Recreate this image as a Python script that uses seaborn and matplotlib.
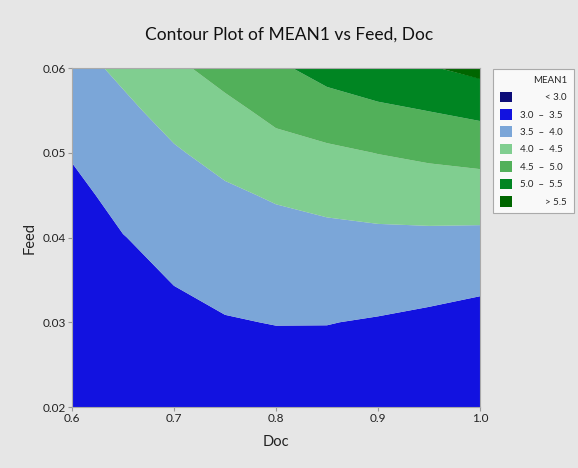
import numpy as np
import matplotlib
matplotlib.use("Agg")
import matplotlib.pyplot as plt
import seaborn as sns
from matplotlib.patches import Patch

# grid
doc = [0.60, 0.65, 0.70, 0.75, 0.80, 0.85, 0.90, 0.95, 1.00]
feed = [0.020, 0.025, 0.030, 0.035, 0.040, 0.045, 0.050, 0.055, 0.060]

# MEAN1 values, one row per feed value (bottom to top)
mean1_f020 = [3.10, 3.25, 3.30, 3.30, 3.29, 3.26, 3.22, 3.16, 3.05]
mean1_f025 = [3.12, 3.28, 3.35, 3.38, 3.385, 3.37, 3.32, 3.27, 3.15]
mean1_f030 = [3.16, 3.33, 3.42, 3.48, 3.51, 3.51, 3.47, 3.42, 3.347]
mean1_f035 = [3.22, 3.40, 3.513, 3.594, 3.66, 3.686, 3.685, 3.64, 3.596]
mean1_f040 = [3.30, 3.49, 3.62, 3.744, 3.83, 3.88, 3.91, 3.913, 3.897]
mean1_f045 = [3.405, 3.61, 3.77, 3.924, 4.047, 4.133, 4.19, 4.23, 4.25]
mean1_f050 = [3.53, 3.74, 3.954, 4.15, 4.335, 4.415, 4.51, 4.59, 4.657]
mean1_f055 = [3.68, 3.90, 4.167, 4.38, 4.62, 4.79, 4.91, 5.01, 5.115]
mean1_f060 = [3.83, 4.10, 4.41, 4.67, 4.92, 5.17, 5.35, 5.47, 5.627]

levels = [0.0, 3.0, 3.5, 4.0, 4.5, 5.0, 5.5, 10.0]
level_labels = ["          < 3.0", "3.0  \u2013  3.5", "3.5  \u2013  4.0", "4.0  \u2013  4.5",
                "4.5  \u2013  5.0", "5.0  \u2013  5.5", "          > 5.5"]
band_colors = ["#0c0c78", "#1212e0", "#7ba6d8", "#80ce90", "#52b05a", "#008522", "#006600"]

z = np.array([mean1_f020, mean1_f025, mean1_f030, mean1_f035, mean1_f040,
              mean1_f045, mean1_f050, mean1_f055, mean1_f060])

sns.set_style("ticks")
plt.rcParams["font.family"] = ["Lato", "DejaVu Sans"]

bg = "#e6e6e6"
fig = plt.figure(figsize=(5.78, 4.68), dpi=100, facecolor=bg)
ax = fig.add_axes([0.1246, 0.1303, 0.7059, 0.7244])
ax.set_facecolor(bg)

ax.contourf(doc, feed, z, levels=levels, colors=band_colors, antialiased=True)

ax.set_xlim(0.6, 1.0)
ax.set_ylim(0.02, 0.06)
ax.set_xticks([0.6, 0.7, 0.8, 0.9, 1.0])
ax.set_xticklabels(["0.6", "0.7", "0.8", "0.9", "1.0"])
ax.set_yticks([0.02, 0.03, 0.04, 0.05, 0.06])
ax.set_yticklabels(["0.02", "0.03", "0.04", "0.05", "0.06"])
ax.tick_params(axis="both", direction="out", length=3, width=0.8, color="#999999",
               labelsize=8.5, labelcolor="#222222", pad=1.5)
for s in ax.spines.values():
    s.set_color("#aaaaaa")
    s.set_linewidth(0.8)

ax.set_xlabel("Doc", fontsize=10.5, color="#222222", labelpad=8)
ax.set_ylabel("Feed", fontsize=10.5, color="#222222", labelpad=4)
fig.text(0.5, 0.925, "Contour Plot of MEAN1 vs Feed, Doc", ha="center", va="center",
         fontsize=12.5, color="#111111")

handles = [Patch(facecolor=c, edgecolor="none") for c in band_colors]
leg = fig.legend(handles, level_labels, title="MEAN1", loc="upper left",
                 bbox_to_anchor=(0.853, 0.8526), borderaxespad=0, frameon=True,
                 fancybox=False, fontsize=7, title_fontsize=7, handlelength=1.3,
                 handleheight=1.3, handletextpad=0.8, labelspacing=0.7, borderpad=0.7,
                 alignment="right")
leg.get_frame().set_edgecolor("#999999")
leg.get_frame().set_linewidth(0.8)
leg.get_frame().set_facecolor("white")

fig.savefig("out.png", dpi=100, facecolor=bg)
